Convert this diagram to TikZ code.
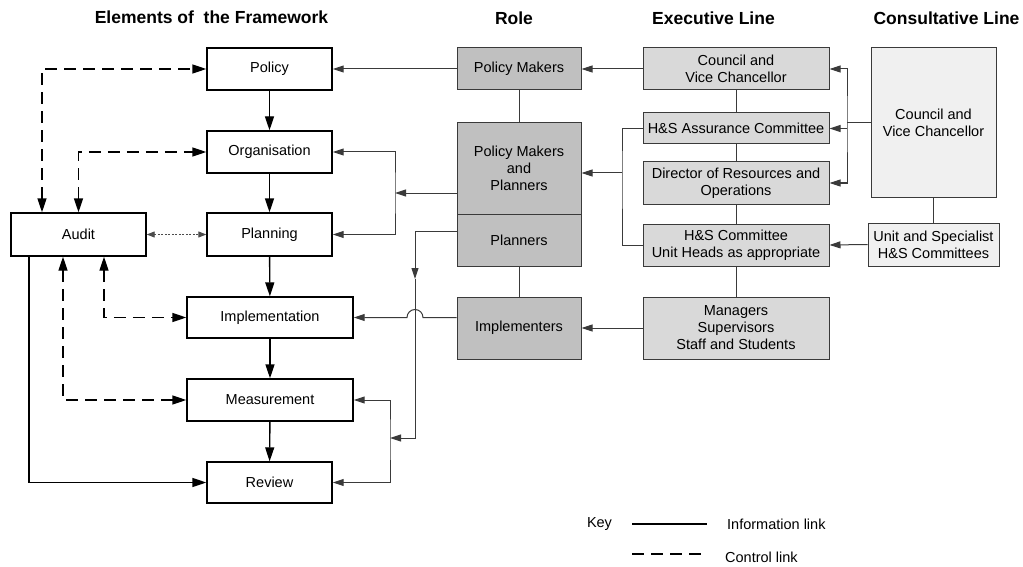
\documentclass[tikz,border=0pt]{standalone}
\usepackage{fontspec}
\setmainfont{Liberation Sans}
\usetikzlibrary{arrows.meta,calc}
\definecolor{rolegray}{HTML}{C0C0C0}
\definecolor{execgray}{HTML}{D9D9D9}
\definecolor{consgray}{HTML}{F0F0F0}
\definecolor{linegray}{HTML}{3A3A3A}
\tikzset{
  Big/.tip={Triangle[length=14pt,width=9pt]},
  Small/.tip={Triangle[length=11pt,width=7pt]},
  Tiny/.tip={Triangle[length=8pt,width=6pt]}
}
\begin{document}
\begin{tikzpicture}[x=1pt,y=-1pt,
  every node/.style={font=\fontsize{14.5}{17}\selectfont, inner sep=0pt, align=center},
  frame/.style={draw=black, line width=1.4pt, fill=white},
  rolebox/.style={draw=linegray, line width=1pt, fill=rolegray},
  execbox/.style={draw=linegray, line width=1pt, fill=execgray},
  consbox/.style={draw=linegray, line width=1pt, fill=consgray},
  head/.style={font=\fontsize{17.5}{20}\selectfont\bfseries},
  flow/.style={line width=1.4pt, -Big},
  ctrl/.style={line width=1.4pt, dash pattern=on 12pt off 7pt},
  info/.style={draw=linegray, line width=1pt},
  dots/.style={draw=black!70, line width=0.9pt, dash pattern=on 2pt off 1.5pt, Tiny-Tiny},
  keytext/.style={anchor=west}
]
\useasboundingbox (0,0) rectangle (1023,567);

% headers
\node[head] (h1) at (211.5,17) {Elements of\ \ the Framework};
\node[head] (h2) at (514,18) {Role};
\node[head] (h3) at (713.5,18) {Executive Line};
\node[head] (h4) at (946.5,18) {Consultative Line};

% framework elements
\node[frame, minimum width=125pt, minimum height=42pt] (policy) at (269.5,69) {Policy};
\node[frame, minimum width=125pt, minimum height=42pt] (org) at (269.5,152) {Organisation};
\node[frame, minimum width=125pt, minimum height=43pt] (plan) at (269.5,234.5) {Planning};
\node[frame, minimum width=135pt, minimum height=43pt] (audit) at (78.5,234.5) {Audit};
\node[frame, minimum width=166pt, minimum height=41pt] (impl) at (270,317.5) {Implementation};
\node[frame, minimum width=166pt, minimum height=42pt] (meas) at (270,400) {Measurement};
\node[frame, minimum width=125pt, minimum height=41pt] (review) at (269.5,482.5) {Review};

% roles
\node[rolebox, minimum width=124pt, minimum height=42pt] (pm) at (519,69) {Policy Makers};
\node[rolebox, minimum width=124pt, minimum height=91pt] (pmp) at (519,168.5) {Policy Makers\\and\\Planners};
\node[rolebox, minimum width=124pt, minimum height=52pt] (planners) at (519,240) {Planners};
\node[rolebox, minimum width=124pt, minimum height=62pt] (impls) at (519,328) {Implementers};

% executive line
\node[execbox, minimum width=186pt, minimum height=42pt] (cvc) at (736,69) {Council and\\Vice Chancellor};
\node[execbox, minimum width=186pt, minimum height=31pt] (hsa) at (736,128.5) {H\&S Assurance Committee};
\node[execbox, minimum width=186pt, minimum height=42pt] (dir) at (736,183) {Director of Resources and\\Operations};
\node[execbox, minimum width=186pt, minimum height=42pt] (hsc) at (736,245) {H\&S Committee\\Unit Heads as appropriate};
\node[execbox, minimum width=186pt, minimum height=62pt] (mgr) at (736,328) {Managers\\Supervisors\\Staff and Students};

% consultative line
\node[consbox, minimum width=125pt, minimum height=149pt] (ccvc) at (933.5,122.5) {Council and\\Vice Chancellor};
\node[consbox, minimum width=131pt, minimum height=43pt] (unit) at (933.5,244.5) {Unit and Specialist\\H\&S Committees};

% coordinates
\coordinate (b1) at (395,193);
\coordinate (b2) at (390,438);
\coordinate (pa) at (415,231);
\coordinate (pb) at (415,279);
\coordinate (pc) at (415,438);
\coordinate (j) at (415,317.5);
\coordinate (b3) at (622,173);
\coordinate (b4) at (847,122.5);
\coordinate (aud1) at (42,234.5);
\coordinate (aud2) at (29,234.5);
\coordinate (aud3) at (63,234.5);
\coordinate (aud4) at (104,234.5);

% main flow
\draw[flow] (policy) -- (org);
\draw[flow] (org) -- (plan);
\draw[flow] (plan) -- (impl);
\draw[flow] (impl) -- (meas);
\draw[flow] (meas) -- (review);

% control links
\draw[ctrl, Big-Big] (aud1 |- audit.north) |- (policy.west);
\draw[ctrl, Big-Big] (audit.north) |- (org.west);
\draw[ctrl, Big-Big] (aud4 |- audit.south) |- (impl.west);
\draw[ctrl, Big-Big] (aud3 |- audit.south) |- (meas.west);
\draw[flow] (aud2 |- audit.south) |- (review.west);
\draw[dots] (audit.east) -- (plan.west);

% information links (role -> elements)
\draw[info, -Small] (pm.west) -- (policy.east);
\draw[info] (pm.south) -- (pmp.north);
\draw[info, Small-Small] (org.east) -| (b1) |- (plan.east);
\draw[info, -Small] (pmp.west |- b1) -- (b1);
\draw[info, -Small] (planners.west |- pa) -- (pa) -- (pb);
\draw[info, -Small] (pb) -- (pc) -- (b2);
\draw[info, Small-Small] (meas.east) -| (b2) |- (review.east);
\draw[info] (planners.south) -- (impls.north);
\draw[info, -Small] (impls.west |- j) -- ($(j)+(8,0)$)
  arc[start angle=0, end angle=180, radius=8pt] -- (impl.east |- j);

% executive line
\draw[info, -Small] (cvc.west) -- (pm.east);
\draw[info] (cvc.south) -- (hsa.north);
\draw[info] (hsa.south) -- (dir.north);
\draw[info] (dir.south) -- (hsc.north);
\draw[info] (hsc.south) -- (mgr.north);
\draw[info] (hsa.west) -| (b3) |- (hsc.west);
\draw[info, -Small] (b3) -- (pmp.east |- b3);
\draw[info, -Small] (mgr.west) -- (impls.east);

% consultative line
\draw[info] (ccvc.west) -- (b4);
\draw[info, Small-Small] (cvc.east) -| (b4) |- (dir.east);
\draw[info, -Small] (b4 |- hsa.east) -- (hsa.east);
\draw[info] (ccvc.south) -- (unit.north);
\draw[info, -Small] (unit.west) -- (hsc.east);

% key
\node (key) at (599.5,524) {Key};
\coordinate (k1) at (632,524);
\coordinate (k2) at (707,524);
\coordinate (k3) at (632,554);
\coordinate (k4) at (707,554);
\draw[line width=1.4pt] (k1) -- (k2);
\draw[ctrl] (k3) -- (k4);
\node[keytext] (kinfo) at (727,524) {Information link};
\node[keytext] (kctrl) at (725,557) {Control link};
\end{tikzpicture}
\end{document}
